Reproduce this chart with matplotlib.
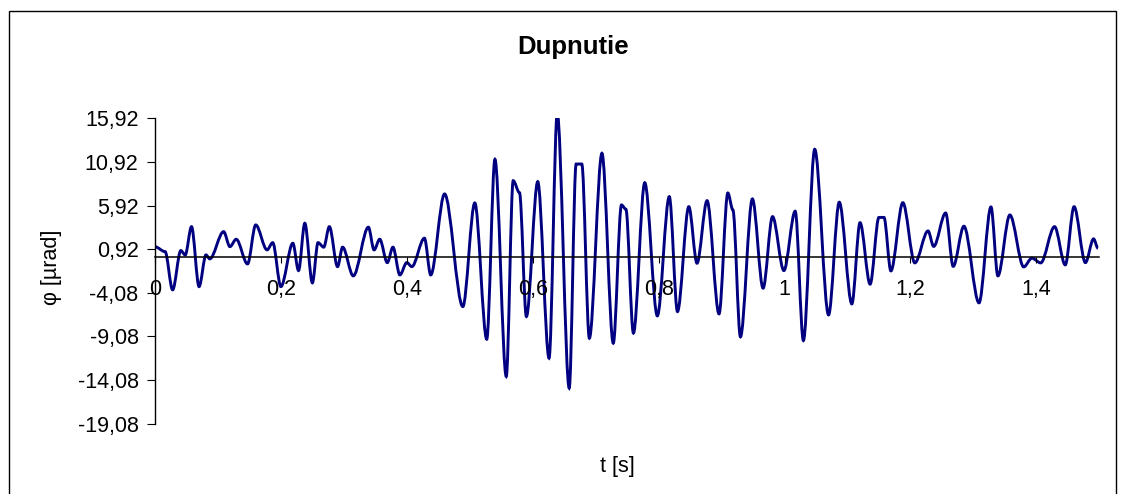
import matplotlib
matplotlib.use("Agg")
import matplotlib.pyplot as plt
from matplotlib.path import Path
from matplotlib.patches import PathPatch, Rectangle

plt.rcParams['font.family'] = ['Liberation Sans', 'DejaVu Sans']

# values (turning points of the trace)
time_s = [0.000, 0.016, 0.028, 0.041, 0.048, 0.058, 0.070, 0.081, 0.087, 0.109,
          0.119, 0.129, 0.147, 0.160, 0.178, 0.187, 0.200, 0.219, 0.228, 0.238,
          0.250, 0.259, 0.268, 0.277, 0.290, 0.298, 0.315, 0.339, 0.348, 0.357,
          0.369, 0.378, 0.389, 0.400, 0.408, 0.428, 0.438, 0.460, 0.489, 0.508,
          0.527, 0.540, 0.558, 0.569, 0.579, 0.590, 0.608, 0.626, 0.639, 0.658,
          0.669, 0.678, 0.690, 0.710, 0.728, 0.741, 0.748, 0.760, 0.778, 0.798,
          0.817, 0.830, 0.848, 0.861, 0.877, 0.896, 0.910, 0.918, 0.930, 0.949,
          0.966, 0.981, 0.999, 1.017, 1.030, 1.048, 1.070, 1.087, 1.107, 1.120,
          1.136, 1.150, 1.158, 1.169, 1.188, 1.207, 1.228, 1.237, 1.256, 1.268,
          1.285, 1.309, 1.328, 1.339, 1.358, 1.380, 1.393, 1.407, 1.429, 1.446,
          1.460, 1.478, 1.491, 1.498]
phi_urad = [1.20, 0.64, -3.74, 0.76, 0.26, 3.50, -3.37, 0.26, -0.19, 2.93,
            1.21, 2.06, -0.77, 3.70, 0.84, 1.67, -3.37, 1.60, -1.53, 3.89,
            -2.94, 1.67, 1.15, 3.50, -1.08, 1.15, -2.14, 3.44, 0.84, 2.06,
            -0.62, 1.15, -2.03, -0.62, -1.08, 2.18, -2.03, 7.25, -5.66, 6.22,
            -9.39, 11.22, -13.67, 8.77, 7.40, -6.80, 8.66, -11.57, 16.50, -15.00,
            10.68, 10.68, -9.28, 11.91, -9.85, 5.99, 5.50, -8.70, 8.54, -6.72,
            6.94, -6.23, 5.79, -0.69, 6.48, -6.49, 7.36, 5.42, -9.13, 6.68,
            -3.55, 4.65, -1.53, 5.27, -9.55, 12.37, -6.61, 6.30, -5.35, 3.96,
            -3.09, 4.56, 4.56, -1.57, 6.25, -0.65, 3.01, 1.24, 5.07, -1.05,
            3.55, -5.23, 5.76, -2.14, 4.84, -1.11, -0.11, -0.65, 3.50, -0.88,
            5.79, -0.62, 2.10, 1.03]

x_ticks = [0, 0.2, 0.4, 0.6, 0.8, 1.0, 1.2, 1.4]
x_labels = ["0", "0,2", "0,4", "0,6", "0,8", "1", "1,2", "1,4"]
y_ticks = [-19.08, -14.08, -9.08, -4.08, 0.92, 5.92, 10.92, 15.92]
y_labels = ["-19,08", "-14,08", "-9,08", "-4,08", "0,92", "5,92", "10,92", "15,92"]

fig = plt.figure(figsize=(11.25, 4.94), dpi=100)
ax = fig.add_axes([155/1125, 1-423.7/494, 1.5*629.5/1125, (423.7-118.3)/494])

# smoothed line like the spreadsheet one: flat tangents at every read point
verts = [(time_s[0], phi_urad[0])]
codes = [Path.MOVETO]
for i in range(1, len(time_s)):
    dt = time_s[i] - time_s[i-1]
    verts += [(time_s[i-1] + dt/3, phi_urad[i-1]), (time_s[i] - dt/3, phi_urad[i]), (time_s[i], phi_urad[i])]
    codes += [Path.CURVE4] * 3
ax.add_patch(PathPatch(Path(verts, codes), facecolor="none", edgecolor="#000080", lw=2.1, transform=ax.transData))

ax.set_xlim(0, 1.5)
ax.set_ylim(-19.08, 15.92)
ax.set_xticks(x_ticks, x_labels)
ax.set_yticks(y_ticks, y_labels)

ax.spines["top"].set_visible(False)
ax.spines["right"].set_visible(False)
ax.spines["bottom"].set_position(("data", 0))
ax.spines["bottom"].set_linewidth(1.1)
ax.spines["left"].set_linewidth(1.0)
ax.tick_params(axis="x", direction="out", length=4.5, width=0.8, pad=11, labelsize=15.5)
ax.tick_params(axis="y", direction="out", length=5.8, width=0.8, pad=6, labelsize=15.5)

fig.text(573/1125, 1-47/494, "Dupnutie", ha="center", va="center", fontsize=18.5, fontweight="bold")
fig.text(51/1125, 1-267/494, "φ [µrad]", ha="center", va="center", rotation=90, fontsize=15.5)
fig.text(617/1125, 1-466/494, "t [s]", ha="center", va="center", fontsize=15.5)

fig.patches.append(Rectangle((8.5/1125, -0.05), (1116-8.5)/1125, 1.05-11/494, transform=fig.transFigure,
                             fill=False, edgecolor="black", lw=1.0))

fig.savefig("out.png", dpi=100)
